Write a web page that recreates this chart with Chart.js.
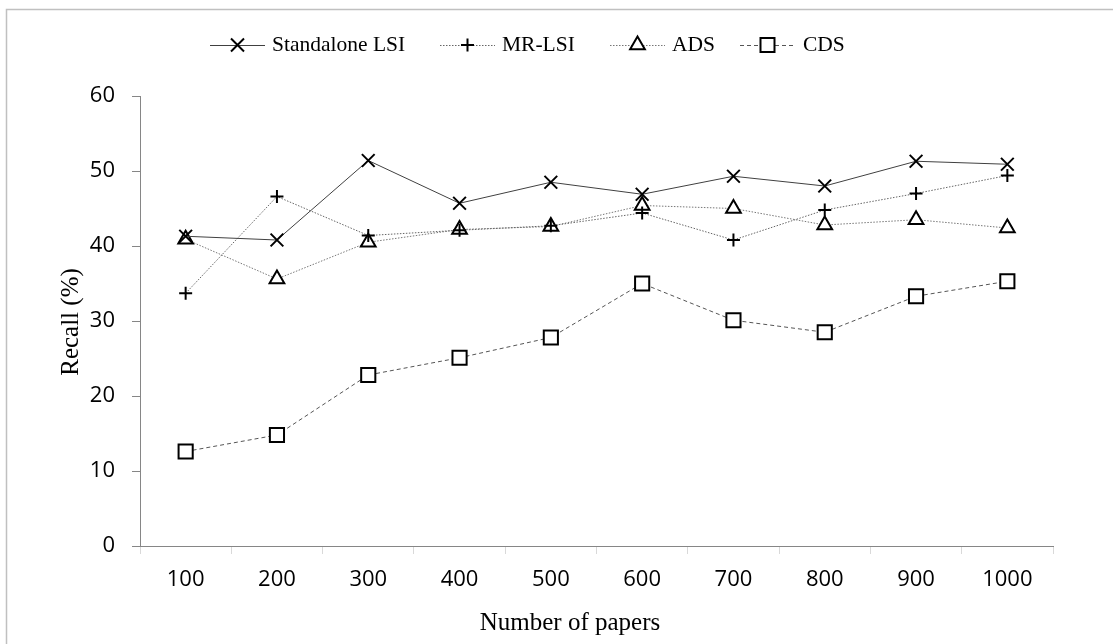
<!DOCTYPE html>
<html>
<head>
<meta charset="utf-8">
<script src="https://cdn.jsdelivr.net/npm/chart.js@4.4.1/dist/chart.umd.min.js"></script>
<style>
  html, body { margin: 0; padding: 0; background: #fff; }
  #chart { display: block; }
</style>
</head>
<body>
<canvas id="chart" width="1113" height="644"></canvas>
<script>
// data
const papers = ['100', '200', '300', '400', '500', '600', '700', '800', '900', '1000'];
const standaloneLsi = [41.3, 40.8, 51.4, 45.7, 48.5, 46.9, 49.3, 48.0, 51.3, 50.9];
const mrLsi = [33.7, 46.6, 41.4, 42.1, 42.7, 44.4, 40.8, 44.8, 47.0, 49.4];
const ads = [40.9, 35.6, 40.5, 42.2, 42.6, 45.4, 45.0, 42.8, 43.5, 42.4];
const cds = [12.6, 14.8, 22.8, 25.1, 27.8, 35.0, 30.1, 28.5, 33.3, 35.3];
const yTicks = [0, 10, 20, 30, 40, 50, 60];

const AXIS_GRAY = '#868686';

// draws one marker for the legend
function drawMarker(ctx, style, x, y) {
    ctx.save();
    ctx.strokeStyle = '#000';
    ctx.fillStyle = '#fff';
    ctx.lineWidth = 2;
    ctx.setLineDash([]);
    ctx.beginPath();
    if (style === 'crossRot') {
        const d = 6.5;
        ctx.moveTo(x - d, y - d); ctx.lineTo(x + d, y + d);
        ctx.moveTo(x + d, y - d); ctx.lineTo(x - d, y + d);
        ctx.stroke();
    } else if (style === 'cross') {
        const d = 6.5;
        ctx.moveTo(x - d, y); ctx.lineTo(x + d, y);
        ctx.moveTo(x, y - d); ctx.lineTo(x, y + d);
        ctx.stroke();
    } else if (style === 'triangle') {
        const r = 8.5;
        ctx.moveTo(x, y - r);
        ctx.lineTo(x + r * 0.866, y + r * 0.5);
        ctx.lineTo(x - r * 0.866, y + r * 0.5);
        ctx.closePath();
        ctx.fill(); ctx.stroke();
    } else {
        const s = 7;
        ctx.rect(x - s, y - s, 2 * s, 2 * s);
        ctx.fill(); ctx.stroke();
    }
    ctx.restore();
}

const legendItems = [
    { label: 'Standalone LSI', x0: 210, x1: 265, tx: 272, style: 'crossRot', color: '#404040', dash: [] },
    { label: 'MR-LSI', x0: 440, x1: 495, tx: 502, style: 'cross', color: '#666', dash: [1.5, 1.5] },
    { label: 'ADS', x0: 610, x1: 665, tx: 672, style: 'triangle', color: '#777', dash: [1.5, 1.5] },
    { label: 'CDS', x0: 740, x1: 795, tx: 803, style: 'rect', color: '#555', dash: [4, 3] }
];

const extrasPlugin = {
    id: 'extras',
    afterDraw(chart) {
        const ctx = chart.ctx;
        ctx.save();
        // outer frame (only left and top edges fall inside the picture)
        ctx.strokeStyle = '#c0c0c0';
        ctx.lineWidth = 1.5;
        ctx.beginPath();
        ctx.moveTo(6.5, 644);
        ctx.lineTo(6.5, 9.5);
        ctx.lineTo(1113, 9.5);
        ctx.stroke();

        // legend
        const ly = 45;
        ctx.font = '21.5px "Liberation Serif"';
        ctx.textBaseline = 'middle';
        ctx.fillStyle = '#000';
        legendItems.forEach(it => {
            ctx.save();
            ctx.strokeStyle = it.color;
            ctx.lineWidth = 1;
            ctx.setLineDash(it.dash);
            ctx.beginPath();
            ctx.moveTo(it.x0, ly + 0.5);
            ctx.lineTo(it.x1, ly + 0.5);
            ctx.stroke();
            ctx.restore();
            drawMarker(ctx, it.style, (it.x0 + it.x1) / 2, ly);
            ctx.fillText(it.label, it.tx, ly);
        });

        // axis titles
        ctx.font = '25px "Liberation Serif"';
        ctx.textAlign = 'center';
        ctx.textBaseline = 'alphabetic';
        ctx.fillText('Number of papers', 570, 630);
        ctx.translate(78, 322);
        ctx.rotate(-Math.PI / 2);
        ctx.fillText('Recall (%)', 0, 0);
        ctx.restore();
    }
};

const tickFont = { family: '"Open Sans"', size: 22 };

new Chart(document.getElementById('chart'), {
    type: 'line',
    data: {
        labels: papers,
        datasets: [
            {
                label: 'Standalone LSI', data: standaloneLsi,
                borderColor: '#404040', borderWidth: 1,
                pointStyle: 'crossRot', pointRadius: 9, pointBorderWidth: 2,
                pointBorderColor: '#000', pointBackgroundColor: '#fff'
            },
            {
                label: 'MR-LSI', data: mrLsi,
                borderColor: '#666', borderWidth: 1, borderDash: [1.5, 1.5],
                pointStyle: 'cross', pointRadius: 6.5, pointBorderWidth: 2,
                pointBorderColor: '#000', pointBackgroundColor: '#fff'
            },
            {
                label: 'ADS', data: ads,
                borderColor: '#777', borderWidth: 1, borderDash: [1.5, 1.5],
                pointStyle: 'triangle', pointRadius: 8.5, pointBorderWidth: 2,
                pointBorderColor: '#000', pointBackgroundColor: '#fff'
            },
            {
                label: 'CDS', data: cds,
                borderColor: '#555', borderWidth: 1, borderDash: [4, 3],
                pointStyle: 'rect', pointRadius: 10, pointBorderWidth: 2,
                pointBorderColor: '#000', pointBackgroundColor: '#fff'
            }
        ]
    },
    options: {
        responsive: false,
        animation: false,
        events: [],
        layout: { padding: { left: 0, right: 60, top: 96, bottom: 0 } },
        plugins: {
            legend: { display: false },
            tooltip: { enabled: false }
        },
        elements: { line: { tension: 0 } },
        scales: {
            x: {
                offset: true,
                grid: {
                    offset: true, drawOnChartArea: false, drawTicks: true,
                    tickLength: 8, color: '#d9d9d9'
                },
                border: { color: AXIS_GRAY, width: 1 },
                ticks: { color: '#000', font: tickFont, padding: 13, maxRotation: 0 },
                afterFit: s => { s.height = 98; }
            },
            y: {
                min: 0, max: 60,
                afterBuildTicks: s => { s.ticks = yTicks.map(v => ({ value: v })); },
                grid: {
                    drawOnChartArea: false, drawTicks: true,
                    tickLength: 8, color: AXIS_GRAY
                },
                border: { color: AXIS_GRAY, width: 1 },
                ticks: { color: '#000', font: tickFont, padding: 17 },
                afterFit: s => { s.width = 140; }
            }
        }
    },
    plugins: [extrasPlugin]
});
</script>
</body>
</html>
